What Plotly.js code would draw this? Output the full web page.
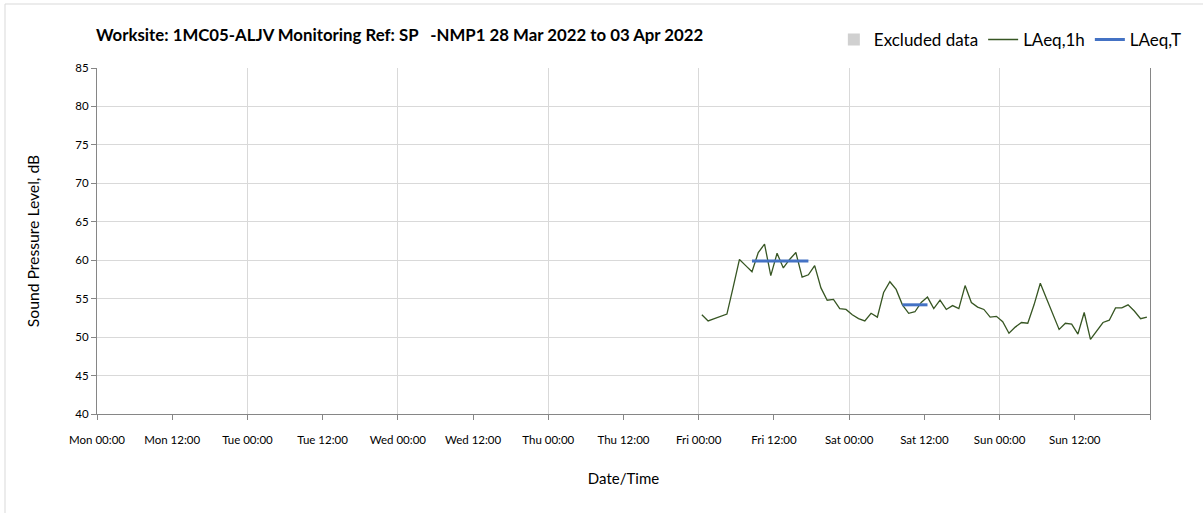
<!DOCTYPE html>
<html>
<head>
<meta charset="utf-8">
<script src="https://cdn.plot.ly/plotly-3.0.1.min.js"></script>
<style>
html,body{margin:0;padding:0;background:#fff;}
#chart{width:1203px;height:513px;}
</style>
</head>
<body>
<div id="chart"></div>
<script>
// LAeq,1h hourly values, Fri 01 Apr 2022 00:00 -> Sun 03 Apr 2022 23:00
const friLAeq1h = [52.9, 52.1, 52.4, 52.7, 53.0, 56.5, 60.1, 59.3, 58.5, 61.0, 62.1, 58.0,
                   60.9, 59.0, 60.1, 61.0, 57.8, 58.1, 59.3, 56.4, 54.8, 54.9, 53.7, 53.6];
const satLAeq1h = [52.9, 52.4, 52.1, 53.1, 52.6, 55.8, 57.2, 56.2, 54.2, 53.1, 53.3, 54.5,
                   55.2, 53.7, 54.8, 53.6, 54.1, 53.7, 56.7, 54.5, 53.9, 53.6, 52.6, 52.7];
const sunLAeq1h = [52.0, 50.5, 51.3, 51.9, 51.8, 54.2, 57.0, 55.0, 53.0, 51.0, 51.8, 51.7,
                   50.4, 53.2, 49.7, 50.8, 51.9, 52.2, 53.8, 53.8, 54.2, 53.4, 52.4, 52.6];
const monitoredDays = ["2022-04-01", "2022-04-02", "2022-04-03"];

// LAeq,T periods: [day, startHour, endHour, value]
const laeqTDays   = ["2022-04-01", "2022-04-02"];
const laeqTStart  = [8, 8];
const laeqTEnd    = [17, 12];
const laeqTValues = [59.9, 54.2];

// Excluded data (none in this week)
const excludedX = [];
const excludedY = [];

// x-axis tick labels (every 12 h, last tick at end of week unlabeled)
const weekDays = ["2022-03-28", "2022-03-29", "2022-03-30", "2022-03-31", "2022-04-01", "2022-04-02", "2022-04-03"];
const dayNames = ["Mon", "Tue", "Wed", "Thu", "Fri", "Sat", "Sun"];
const xStart = "2022-03-28 00:00";
const xEnd   = "2022-04-04 00:00";
const titleText = "Worksite: 1MC05-ALJV Monitoring Ref: SP\u00a0\u00a0 -NMP1 28 Mar 2022 to 03 Apr 2022";

function pad(n){return (n<10?"0":"")+n;}
function slot(day, h){return day + " " + pad(h) + ":30";} // point centred in its hourly category

const x1h = [], y1h = [];
[friLAeq1h, satLAeq1h, sunLAeq1h].forEach((arr, d) => {
  arr.forEach((v, h) => { x1h.push(slot(monitoredDays[d], h)); y1h.push(v); });
});

const xT = [], yT = [];
laeqTDays.forEach((day, i) => {
  for (let h = laeqTStart[i]; h <= laeqTEnd[i]; h++) { xT.push(slot(day, h)); yT.push(laeqTValues[i]); }
  xT.push(slot(day, laeqTEnd[i])); yT.push(null);
});

const tickvals = [], ticktext = [];
weekDays.forEach((d, i) => {
  tickvals.push(d + " 00:00"); ticktext.push(dayNames[i] + " 00:00");
  tickvals.push(d + " 12:00"); ticktext.push(dayNames[i] + " 12:00");
});
tickvals.push(xEnd); ticktext.push("");

const FONT = "Lato, 'Open Sans', sans-serif";

const traces = [
  {type: "bar", name: "Excluded data", x: excludedX.length ? excludedX : [xStart], y: excludedX.length ? excludedY : [null],
   marker: {color: "#d0d0d0"}, showlegend: true},
  {type: "scatter", mode: "lines", name: "LAeq,1h", x: x1h, y: y1h,
   line: {color: "#375623", width: 1.3}},
  {type: "scatter", mode: "lines", name: "LAeq,T", x: xT, y: yT, connectgaps: false,
   line: {color: "#4472c4", width: 3}},
  {type: "scatter", mode: "lines", x: [xStart], y: [null], xaxis: "x2", showlegend: false, hoverinfo: "skip"}
];

const layout = {
  width: 1203, height: 513,
  margin: {l: 97, r: 53, t: 68, b: 99},
  paper_bgcolor: "#ffffff", plot_bgcolor: "#ffffff",
  font: {family: FONT, size: 12, color: "#000"},
  title: {text: "<b>" + titleText + "</b>", x: 96/1203, xanchor: "left", xref: "container",
          y: 1 - 35/513, yanchor: "middle", font: {family: FONT, size: 16.8, color: "#000"}},
  showlegend: true,
  legend: {orientation: "h", x: 1.035, xanchor: "right", y: 1.081, yanchor: "middle",
           font: {family: FONT, size: 17, color: "#000"}, bgcolor: "rgba(0,0,0,0)",
           traceorder: "normal", itemwidth: 30},
  xaxis: {type: "date", range: [xStart, xEnd], tickmode: "array", tickvals: tickvals, ticktext: ticktext,
          showgrid: false, showline: true, linecolor: "#868686", linewidth: 1,
          ticks: "outside", ticklen: 5, tickcolor: "#868686", zeroline: false, ticklabelstandoff: 10,
          tickfont: {family: FONT, size: 11.5, color: "#000"},
          title: {text: "Date/Time", standoff: 28, font: {family: FONT, size: 15, color: "#000"}}},
  xaxis2: {type: "date", range: [xStart, xEnd], dtick: 24*3600*1000, tick0: xStart, overlaying: "x",
           showgrid: true, gridcolor: "#d9d9d9", gridwidth: 1, showticklabels: false, ticks: "",
           showline: false, zeroline: false},
  yaxis: {range: [40, 85], dtick: 5, showgrid: true, gridcolor: "#d9d9d9", gridwidth: 1,
          showline: true, mirror: true, linecolor: "#868686", linewidth: 1,
          ticks: "outside", ticklen: 5, tickcolor: "#868686", zeroline: false,
          tickfont: {family: FONT, size: 11.5, color: "#000"},
          title: {text: "Sound Pressure Level, dB", standoff: 31, font: {family: FONT, size: 15.7, color: "#000"}}},
  shapes: [{type: "rect", xref: "paper", yref: "paper", x0: -92/1053, x1: 1.12, y0: -0.31, y1: (414-4)/346,
            line: {color: "#d9d9d9", width: 1}, fillcolor: "rgba(0,0,0,0)", layer: "below"}]
};

Plotly.newPlot("chart", traces, layout, {staticPlot: true, displayModeBar: false});
</script>
</body>
</html>
